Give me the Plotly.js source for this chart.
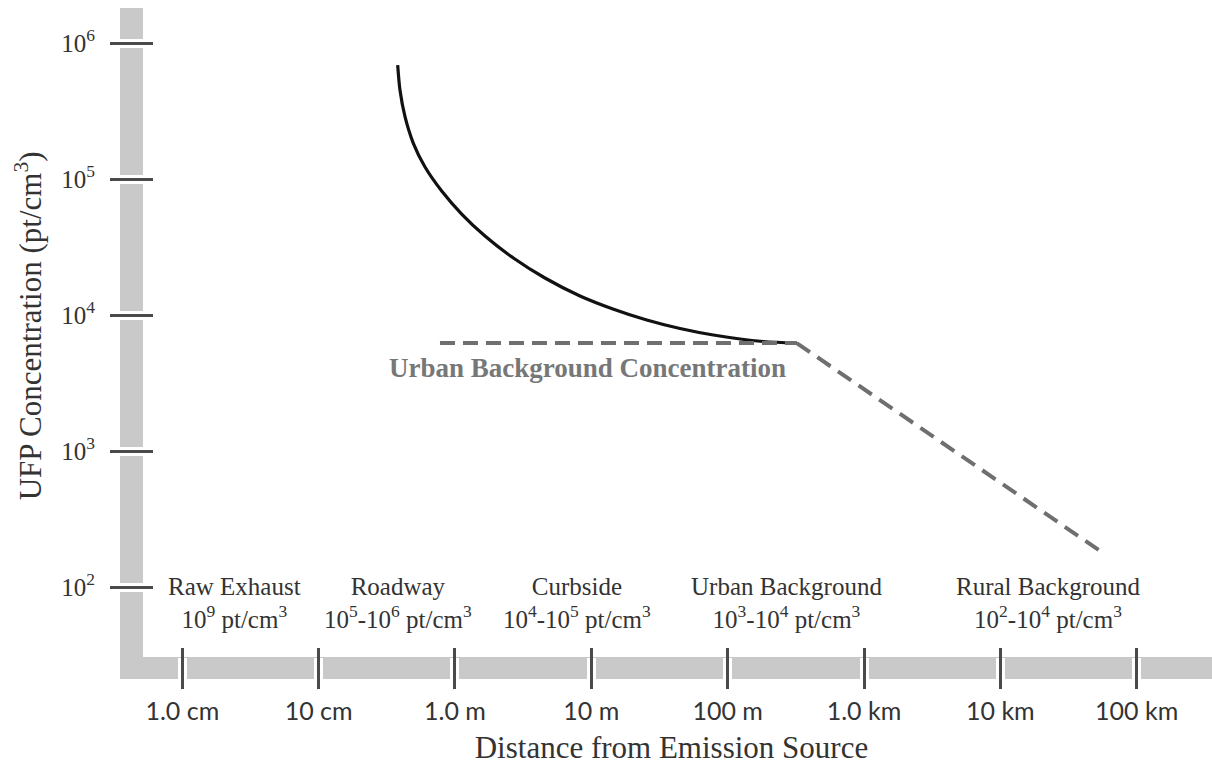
<!DOCTYPE html>
<html>
<head>
<meta charset="utf-8">
<script src="https://cdn.plot.ly/plotly-3.0.1.min.js"></script>
<style>
  html, body { margin: 0; padding: 0; background: #ffffff; }
  #chart { width: 1212px; height: 765px; }
</style>
</head>
<body>
<div id="chart"></div>
<script>
// ---- Data ----
// Solid curve: UFP concentration decaying with distance from the source
const curveDistance_m = [0.380, 0.395, 0.430, 0.495, 0.603, 0.799, 1.12, 1.66, 2.68, 4.57, 8.26, 14.4, 25.5, 44.7, 78.5, 182, 321];
const curveConcentration = [689000, 451000, 287000, 183000, 122500, 81600, 55270, 38100, 26250, 18710, 13800, 11070, 9190, 7956, 7130, 6385, 6225];

// Dashed horizontal: urban background concentration level
const urbanBgDistance_m = [0.776, 321];
const urbanBgConcentration = [6220, 6220];

// Dashed diagonal: decay towards rural background
const ruralDecayDistance_m = [321, 56600];
const ruralDecayConcentration = [6220, 178];

// Axis ticks
const distanceTickVals = [0.01, 0.1, 1, 10, 100, 1000, 10000, 100000];
const distanceTickText = ['1.0 cm', '10 cm', '1.0 m', '10 m', '100 m', '1.0 km', '10 km', '100 km'];
const concTickVals = [1e2, 1e3, 1e4, 1e5, 1e6];
const concTickText = ['10<sup>2</sup>', '10<sup>3</sup>', '10<sup>4</sup>', '10<sup>5</sup>', '10<sup>6</sup>'];

// Zones along the distance axis
const zoneNames = ['Raw Exhaust', 'Roadway', 'Curbside', 'Urban Background', 'Rural Background'];
const zoneRanges = [
  '10<sup>9</sup> pt/cm<sup>3</sup>',
  '10<sup>5</sup>-10<sup>6</sup> pt/cm<sup>3</sup>',
  '10<sup>4</sup>-10<sup>5</sup> pt/cm<sup>3</sup>',
  '10<sup>3</sup>-10<sup>4</sup> pt/cm<sup>3</sup>',
  '10<sup>2</sup>-10<sup>4</sup> pt/cm<sup>3</sup>'
];
const zoneCenters_m = [0.024, 0.384, 7.86, 272, 22400];

const urbanBgLabel = 'Urban Background Concentration';
const urbanBgLabelDistance_m = 9.3;

// ---- Styling / layout ----
const W = 1212, H = 765;
const BAR = '#c9c9c9';
const TICKDARK = '#4a4a4a';
const TXT = '#333333';
const SERIF = '"Liberation Serif", "Times New Roman", serif';
const SANS = 'Lato, "Open Sans", sans-serif';

const xRange = [-2.3770, 5.5524];
const xDomain = [0.108, 1];
const yRange = [1.5237, 6.3162];
const yDomain = [0.148, 1];

const traces = [
  {
    x: curveDistance_m, y: curveConcentration,
    type: 'scatter', mode: 'lines',
    line: { color: '#111111', width: 3.2, shape: 'spline', smoothing: 0.8 },
    hoverinfo: 'skip', showlegend: false
  },
  {
    x: urbanBgDistance_m, y: urbanBgConcentration,
    type: 'scatter', mode: 'lines',
    line: { color: '#6f6f6f', width: 4, dash: '15px,8px' },
    hoverinfo: 'skip', showlegend: false
  },
  {
    x: ruralDecayDistance_m, y: ruralDecayConcentration,
    type: 'scatter', mode: 'lines',
    line: { color: '#6f6f6f', width: 4, dash: '16px,9px' },
    hoverinfo: 'skip', showlegend: false
  },
  // transparent companions so the overlaid tick axes get their subplots
  {
    x: ruralDecayDistance_m, y: ruralDecayConcentration, xaxis: 'x2', yaxis: 'y',
    type: 'scatter', mode: 'markers', marker: { opacity: 0 },
    hoverinfo: 'skip', showlegend: false
  },
  {
    x: ruralDecayDistance_m, y: ruralDecayConcentration, xaxis: 'x', yaxis: 'y2',
    type: 'scatter', mode: 'markers', marker: { opacity: 0 },
    hoverinfo: 'skip', showlegend: false
  }
];

const annotations = zoneNames.map((name, i) => ({
  x: Math.log10(zoneCenters_m[i]), xref: 'x',
  y: (H - 603) / H, yref: 'paper',
  text: name + '<br>' + zoneRanges[i],
  showarrow: false, xanchor: 'center', yanchor: 'middle',
  font: { family: SERIF, size: 25, color: TXT }
}));
annotations.push({
  x: Math.log10(urbanBgLabelDistance_m), xref: 'x',
  y: Math.log10(urbanBgConcentration[0]), yref: 'y',
  yanchor: 'top', xanchor: 'center', yshift: -8,
  text: '<b>' + urbanBgLabel + '</b>',
  showarrow: false,
  font: { family: SERIF, size: 27, color: '#777777' }
});

const shapes = [
  // vertical grey bar (y axis)
  { type: 'rect', xref: 'paper', yref: 'paper', layer: 'below',
    x0: 120 / W, x1: 143 / W, y0: (H - 679) / H, y1: (H - 8) / H,
    fillcolor: BAR, line: { width: 0 } },
  // horizontal grey bar (x axis)
  { type: 'rect', xref: 'paper', yref: 'paper', layer: 'below',
    x0: 120 / W, x1: 1, y0: (H - 679) / H, y1: (H - 657) / H,
    fillcolor: BAR, line: { width: 0 } }
];

const layout = {
  width: W, height: H,
  margin: { l: 0, r: 0, t: 0, b: 0, pad: 0 },
  paper_bgcolor: '#ffffff', plot_bgcolor: 'rgba(0,0,0,0)',
  showlegend: false,
  xaxis: {
    type: 'log', range: xRange, domain: xDomain,
    anchor: 'free', position: (H - 657) / H, side: 'bottom',
    showline: false, showgrid: false, zeroline: false,
    tickmode: 'array', tickvals: distanceTickVals, ticktext: distanceTickText,
    ticks: 'outside', ticklen: 22, tickwidth: 9, tickcolor: '#ffffff',
    ticklabelstandoff: 10,
    tickfont: { family: SANS, size: 25, color: TXT },
    title: { text: 'Distance from Emission Source', standoff: 12,
             font: { family: SERIF, size: 31, color: TXT } },
    fixedrange: true
  },
  xaxis2: {
    type: 'log', range: xRange, domain: xDomain, overlaying: 'x',
    anchor: 'free', position: (H - 647) / H, side: 'bottom',
    showline: false, showgrid: false, zeroline: false,
    tickmode: 'array', tickvals: distanceTickVals,
    ticks: 'outside', ticklen: 41, tickwidth: 3, tickcolor: TICKDARK,
    showticklabels: false, fixedrange: true
  },
  yaxis: {
    type: 'log', range: yRange, domain: yDomain,
    anchor: 'free', position: 143 / W, side: 'left',
    showline: false, showgrid: false, zeroline: false,
    tickmode: 'array', tickvals: concTickVals, ticktext: concTickText,
    ticks: 'outside', ticklen: 23, tickwidth: 9, tickcolor: '#ffffff',
    ticklabelstandoff: 20,
    tickfont: { family: SERIF, size: 25, color: TXT },
    fixedrange: true
  },
  yaxis2: {
    type: 'log', range: yRange, domain: yDomain, overlaying: 'y',
    anchor: 'free', position: 153 / W, side: 'left',
    showline: false, showgrid: false, zeroline: false,
    tickmode: 'array', tickvals: concTickVals,
    ticks: 'outside', ticklen: 43, tickwidth: 3, tickcolor: TICKDARK,
    showticklabels: false,
    title: { text: 'UFP Concentration (pt/cm<sup>3</sup>)', standoff: 58,
             font: { family: SERIF, size: 31, color: TXT } },
    fixedrange: true
  },
  shapes: shapes,
  annotations: annotations
};

Plotly.newPlot('chart', traces, layout, { staticPlot: true, displayModeBar: false });
</script>
</body>
</html>
